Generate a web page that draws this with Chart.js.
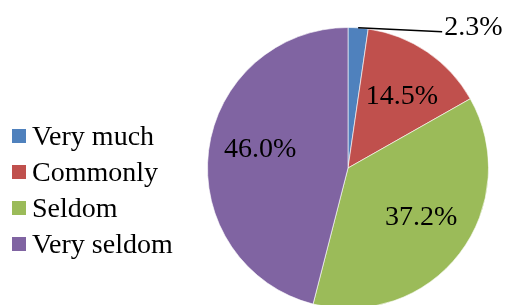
<!DOCTYPE html>
<html>
<head>
<meta charset="utf-8">
<script src="https://cdn.jsdelivr.net/npm/chart.js@4/dist/chart.umd.min.js"></script>
<style>
  html, body { margin: 0; padding: 0; background: #fff; overflow: hidden; }
  #wrap { width: 506px; height: 305px; overflow: hidden; }
</style>
</head>
<body>
<div id="wrap"><canvas id="pie" width="506" height="330"></canvas></div>
<script>
// data
const categories = ['Very much', 'Commonly', 'Seldom', 'Very seldom'];
const shares = [2.3, 14.5, 37.2, 46.0];
const sliceColors = ['#4F81BD', '#C0504D', '#9BBB59', '#8064A2'];
// small nudges of the inside labels (px), Excel doesn't sit them exactly on the bisector
const labelNudge = [[0, 0], [4, 1], [3, -5], [0, -8]];

const FONT = '28px "Liberation Serif", "Times New Roman", serif';

// percent labels, the small slice gets a leader line out to the right
const labelPlugin = {
  id: 'pctLabels',
  afterDatasetsDraw(chart) {
    const ctx = chart.ctx;
    const arcs = chart.getDatasetMeta(0).data;
    ctx.save();
    ctx.font = FONT;
    ctx.fillStyle = '#000';
    arcs.forEach((arc, i) => {
      const { x, y, startAngle, endAngle, outerRadius } = arc.getProps(['x', 'y', 'startAngle', 'endAngle', 'outerRadius'], true);
      const mid = (startAngle + endAngle) / 2;
      const txt = shares[i].toFixed(1) + '%';
      if (shares[i] < 5) {
        const sx = x + Math.cos(mid) * outerRadius;
        const sy = y + Math.sin(mid) * outerRadius;
        ctx.strokeStyle = '#000';
        ctx.lineWidth = 1.5;
        ctx.beginPath();
        ctx.moveTo(sx, sy);
        ctx.lineTo(sx + 84, sy + 4);
        ctx.stroke();
        ctx.textAlign = 'left';
        ctx.textBaseline = 'alphabetic';
        ctx.fillText(txt, sx + 86, sy + 7);
      } else {
        const r = outerRadius * 0.63;
        ctx.textAlign = 'center';
        ctx.textBaseline = 'middle';
        ctx.fillText(txt, x + Math.cos(mid) * r + labelNudge[i][0], y + Math.sin(mid) * r + 1 + labelNudge[i][1]);
      }
    });
    ctx.restore();
  }
};

// legend on the left, square + label per row
const legendPlugin = {
  id: 'leftLegend',
  afterDraw(chart) {
    const ctx = chart.ctx;
    ctx.save();
    ctx.font = FONT;
    ctx.textAlign = 'left';
    ctx.textBaseline = 'alphabetic';
    categories.forEach((name, i) => {
      const cy = 136 + i * 36;
      ctx.fillStyle = sliceColors[i];
      ctx.fillRect(12, cy - 7, 14, 14);
      ctx.fillStyle = '#000';
      ctx.fillText(name, 32, cy + 9);
    });
    ctx.restore();
  }
};

new Chart(document.getElementById('pie'), {
  type: 'pie',
  data: {
    labels: categories,
    datasets: [{
      data: shares,
      backgroundColor: sliceColors,
      borderColor: 'rgba(255,255,255,0.6)',
      borderWidth: 1,
      hoverOffset: 0
    }]
  },
  options: {
    responsive: false,
    animation: false,
    devicePixelRatio: 1,
    layout: { padding: { left: 207, right: 17, top: 27, bottom: 21 } },
    plugins: {
      legend: { display: false },
      tooltip: { enabled: false }
    }
  },
  plugins: [labelPlugin, legendPlugin]
});
</script>
</body>
</html>
